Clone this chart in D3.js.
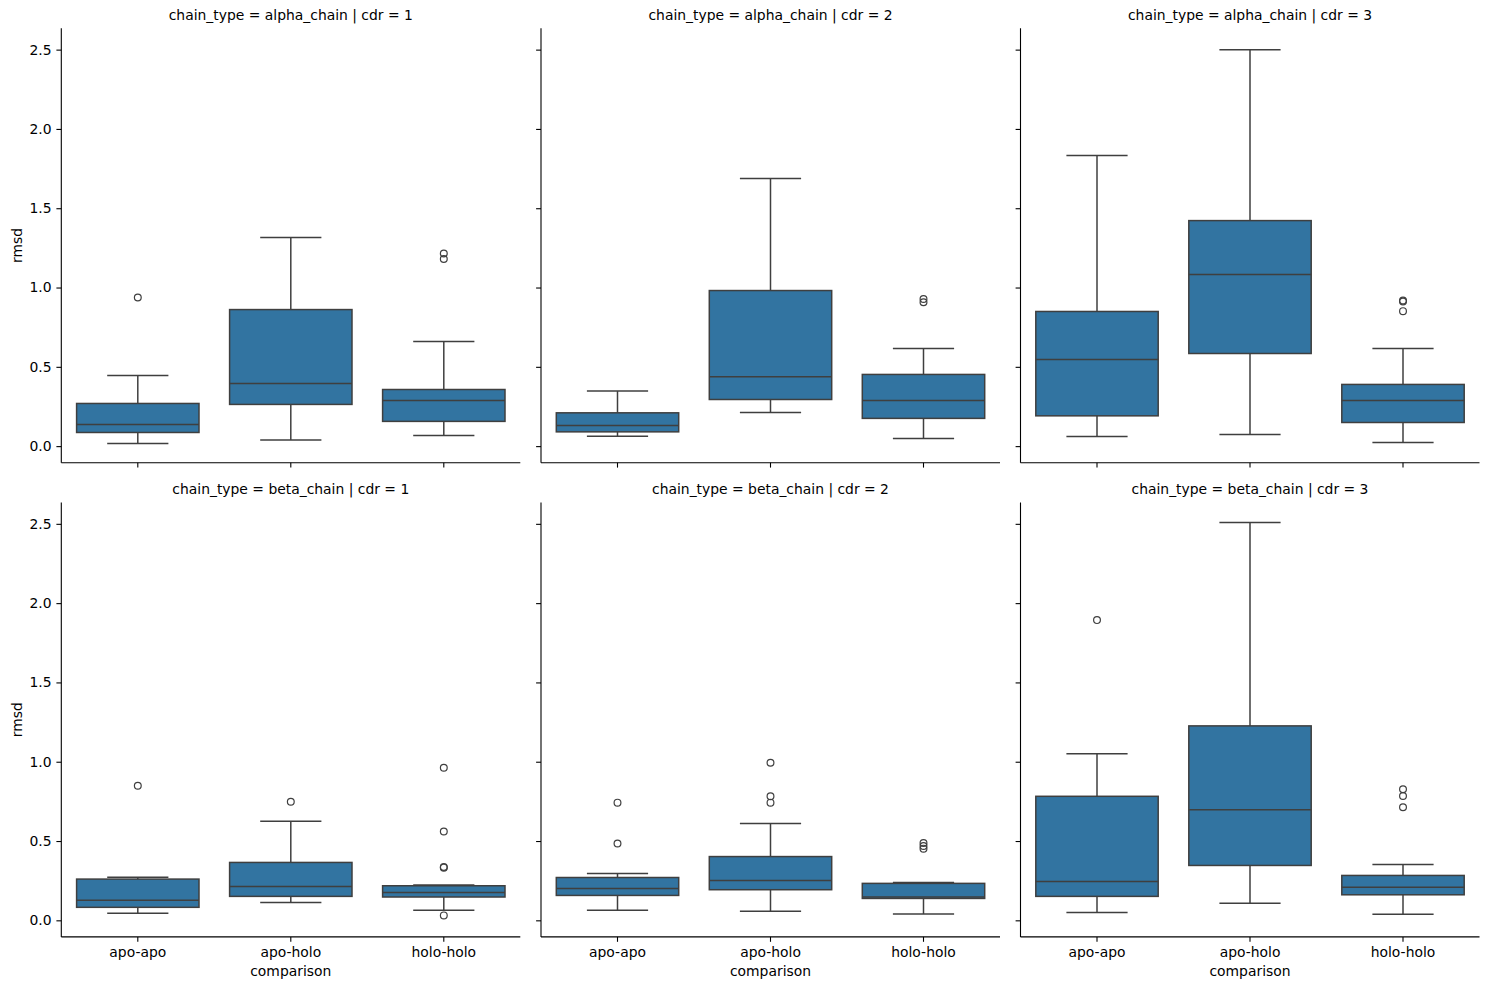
<!DOCTYPE html>
<html>
<head>
<meta charset="utf-8">
<script src="https://cdn.jsdelivr.net/npm/d3@7"></script>
<style>
  html, body { margin: 0; padding: 0; background: #fff; }
  svg { display: block; }
  text { font-family: "DejaVu Sans", sans-serif; fill: #000; }
</style>
</head>
<body>
<svg id="chart" width="1508" height="989"></svg>
<script>
// ---------- data ----------
const categories = ["apo-apo", "apo-holo", "holo-holo"];
const chainTypes = ["alpha_chain", "beta_chain"];
const cdrs = [1, 2, 3];
const yTicks = [0, 0.5, 1.0, 1.5, 2.0, 2.5];

// five-number box summaries per category: [whisker low, Q1, median, Q3, whisker high]
const alpha_cdr1 = [[0.017, 0.086, 0.137, 0.269, 0.445], [0.038, 0.263, 0.395, 0.861, 1.315], [0.067, 0.156, 0.288, 0.357, 0.660]];
const alpha_cdr2 = [[0.063, 0.090, 0.130, 0.210, 0.347], [0.212, 0.294, 0.437, 0.981, 1.687], [0.048, 0.175, 0.288, 0.452, 0.615]];
const alpha_cdr3 = [[0.061, 0.191, 0.546, 0.849, 1.832], [0.074, 0.584, 1.082, 1.422, 2.500], [0.023, 0.149, 0.288, 0.389, 0.615]];
const beta_cdr1  = [[0.044, 0.082, 0.126, 0.260, 0.272], [0.113, 0.151, 0.214, 0.365, 0.625], [0.063, 0.147, 0.176, 0.218, 0.222]];
const beta_cdr2  = [[0.063, 0.157, 0.201, 0.270, 0.296], [0.057, 0.193, 0.251, 0.402, 0.610], [0.040, 0.138, 0.147, 0.233, 0.239]];
const beta_cdr3  = [[0.050, 0.151, 0.245, 0.782, 1.050], [0.107, 0.346, 0.698, 1.226, 2.509], [0.038, 0.161, 0.208, 0.283, 0.352]];

// outliers per category
const alpha_cdr1_out = [[0.937], [], [1.215, 1.180]];
const alpha_cdr2_out = [[], [], [0.928, 0.907]];
const alpha_cdr3_out = [[], [], [0.918, 0.912, 0.851]];
const beta_cdr1_out  = [[0.849], [0.748], [0.962, 0.560, 0.337, 0.332, 0.031]];
const beta_cdr2_out  = [[0.742, 0.484], [0.994, 0.782, 0.742], [0.488, 0.469, 0.452]];
const beta_cdr3_out  = [[1.893], [], [0.826, 0.784, 0.713]];

const panels = [
  { chain: "alpha_chain", cdr: 1, stats: alpha_cdr1, out: alpha_cdr1_out },
  { chain: "alpha_chain", cdr: 2, stats: alpha_cdr2, out: alpha_cdr2_out },
  { chain: "alpha_chain", cdr: 3, stats: alpha_cdr3, out: alpha_cdr3_out },
  { chain: "beta_chain",  cdr: 1, stats: beta_cdr1,  out: beta_cdr1_out },
  { chain: "beta_chain",  cdr: 2, stats: beta_cdr2,  out: beta_cdr2_out },
  { chain: "beta_chain",  cdr: 3, stats: beta_cdr3,  out: beta_cdr3_out }
];

// ---------- layout ----------
const colLefts = [61.3, 541.0, 1020.5];
const rowTops = [28.3, 502.5];
const panelW = 459;
const panelH = 434.4;
const boxFill = "#3274a1";
const lineCol = "#3f3f3f";
const fontSize = 13.9;
const tickLen = 4.9;

const svg = d3.select("#chart");
const yDomain = [-0.1045, 2.6345];

panels.forEach((p, i) => {
  const col = cdrs.indexOf(p.cdr);
  const row = chainTypes.indexOf(p.chain);
  const left = colLefts[col], top = rowTops[row];
  const right = left + panelW, bottom = top + panelH;

  const x = d3.scaleBand().domain(categories).range([left, right]).padding(0);
  const y = d3.scaleLinear().domain(yDomain).range([bottom, top]);
  const bw = x.bandwidth() * 0.8;
  const cx = c => x(c) + x.bandwidth() / 2;

  const g = svg.append("g");

  // boxes
  categories.forEach((c, k) => {
    const [lo, q1, med, q3, hi] = p.stats[k];
    const xc = cx(c);
    const bg = g.append("g").attr("fill", "none").attr("stroke", lineCol).attr("stroke-width", 1.5);
    // whiskers
    bg.append("line").attr("x1", xc).attr("x2", xc).attr("y1", y(q1)).attr("y2", y(lo));
    bg.append("line").attr("x1", xc).attr("x2", xc).attr("y1", y(q3)).attr("y2", y(hi));
    // caps
    bg.append("line").attr("x1", xc - bw / 4).attr("x2", xc + bw / 4).attr("y1", y(lo)).attr("y2", y(lo));
    bg.append("line").attr("x1", xc - bw / 4).attr("x2", xc + bw / 4).attr("y1", y(hi)).attr("y2", y(hi));
    // box
    bg.append("rect")
      .attr("x", xc - bw / 2).attr("width", bw)
      .attr("y", y(q3)).attr("height", y(q1) - y(q3))
      .attr("fill", boxFill);
    // median
    bg.append("line").attr("x1", xc - bw / 2).attr("x2", xc + bw / 2).attr("y1", y(med)).attr("y2", y(med));
    // outliers
    bg.selectAll("circle.out").data(p.out[k]).enter().append("circle")
      .attr("cx", xc).attr("cy", d => y(d)).attr("r", 3.4)
      .attr("fill", "none").attr("stroke", lineCol).attr("stroke-width", 1.2);
  });

  // y axis
  const yAxis = d3.axisLeft(y).tickValues(yTicks).tickSize(tickLen).tickPadding(4.9)
    .tickFormat(col === 0 ? d3.format(".1f") : () => "");
  const yg = g.append("g").attr("transform", `translate(${left},0)`).call(yAxis);
  yg.select(".domain").attr("d", `M0,${top}V${bottom}`).attr("stroke", "#000").attr("stroke-width", 1.1);
  yg.selectAll(".tick line").attr("stroke", "#000").attr("stroke-width", 1.1);
  yg.selectAll(".tick text").attr("font-size", fontSize).attr("font-family", "DejaVu Sans").attr("fill", "#000");

  // x axis
  const xAxis = d3.axisBottom(x).tickSize(tickLen).tickPadding(4.9)
    .tickFormat(row === 1 ? (d => d) : () => "");
  const xg = g.append("g").attr("transform", `translate(0,${bottom})`).call(xAxis);
  xg.select(".domain").attr("d", `M${left},0H${right}`).attr("stroke", "#000").attr("stroke-width", 1.1);
  xg.selectAll(".tick line").attr("stroke", "#000").attr("stroke-width", 1.1);
  xg.selectAll(".tick text").attr("font-size", fontSize).attr("font-family", "DejaVu Sans").attr("fill", "#000");

  // title
  g.append("text")
    .attr("x", (left + right) / 2).attr("y", top - 8.3)
    .attr("text-anchor", "middle").attr("font-size", fontSize)
    .text(`chain_type = ${p.chain} | cdr = ${p.cdr}`);

  // y label
  if (col === 0) {
    g.append("text")
      .attr("transform", `translate(21.5,${(top + bottom) / 2}) rotate(-90)`)
      .attr("text-anchor", "middle").attr("font-size", fontSize)
      .text("rmsd");
  }
  // x label
  if (row === 1) {
    g.append("text")
      .attr("x", (left + right) / 2).attr("y", bottom + 39.5)
      .attr("text-anchor", "middle").attr("font-size", fontSize)
      .text("comparison");
  }
});
</script>
</body>
</html>
